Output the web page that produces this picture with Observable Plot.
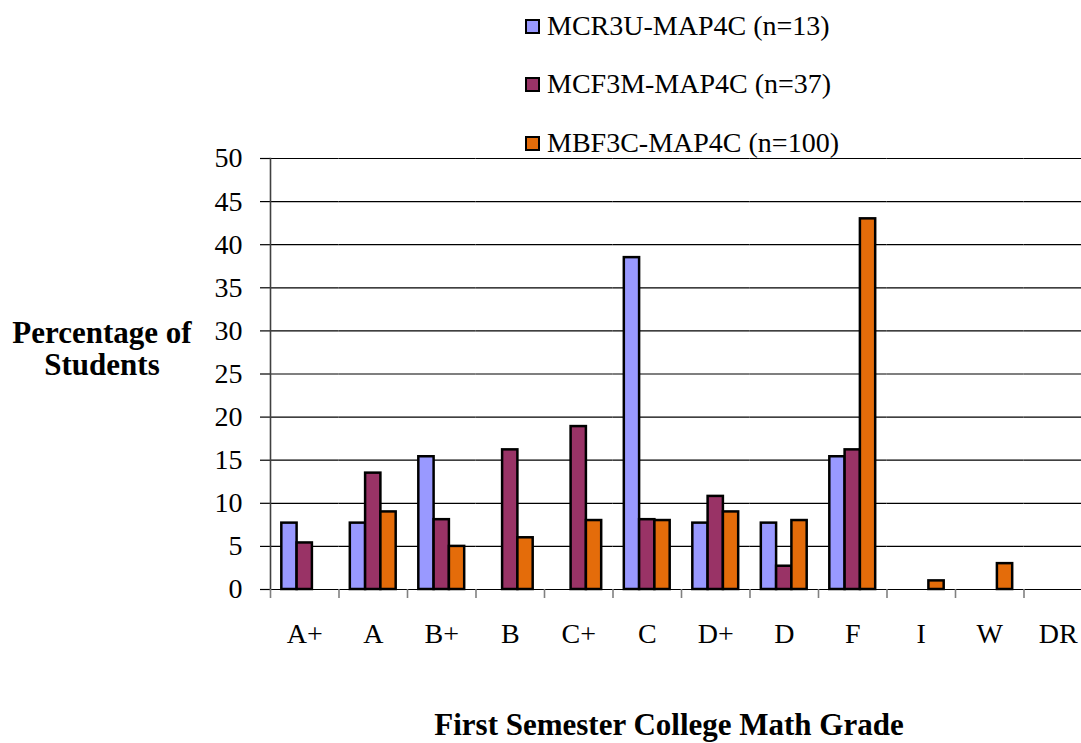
<!DOCTYPE html>
<html>
<head>
<meta charset="utf-8">
<script src="https://cdn.jsdelivr.net/npm/d3@7"></script>
<script src="https://cdn.jsdelivr.net/npm/@observablehq/plot@0.6"></script>
<style>
html, body { margin: 0; padding: 0; background: #fff; overflow: hidden; width: 1081px; height: 743px; }
#wrap, #wrap * { font-family: "Liberation Serif", "Times New Roman", serif !important; }
#wrap { position: relative; width: 1081px; height: 743px; overflow: hidden; color: #000; }
#chart { position: absolute; left: 0; top: 0; width: 1100px; height: 743px; }
#chart svg { max-width: none !important; width: 1100px !important; height: 743px !important; }
.leg { position: absolute; left: 525px; display: flex; align-items: center; height: 32px; font-size: 28px; line-height: 32px; white-space: nowrap; z-index: 2; }
.sw { width: 15px; height: 15px; box-sizing: border-box; border: 2px solid #000; margin-right: 7px; }
.ylab { position: absolute; left: 0; top: 317px; width: 204px; text-align: center; font-weight: bold; font-size: 31px; line-height: 32px; }
.xlab { position: absolute; left: 369px; top: 709px; width: 600px; text-align: center; font-weight: bold; font-size: 31px; line-height: 32px; white-space: nowrap; }
</style>
</head>
<body>
<div id="wrap">
  <div id="chart"></div>
  <div id="legend"></div>
  <div class="ylab">Percentage of<br>Students</div>
  <div class="xlab">First Semester College Math Grade</div>
</div>
<script>
// ---- data ----
const grades = ["A+", "A", "B+", "B", "C+", "C", "D+", "D", "F", "I", "W", "DR"];
const seriesNames = ["MCR3U-MAP4C (n=13)", "MCF3M-MAP4C (n=37)", "MBF3C-MAP4C (n=100)"];
const mcr3u = [7.7, 7.7, 15.4, 0, 0, 38.5, 7.7, 7.7, 15.4, 0, 0, 0];
const mcf3m = [5.4, 13.5, 8.1, 16.2, 18.9, 8.1, 10.8, 2.7, 16.2, 0, 0, 0];
const mbf3c = [0, 9, 5, 6, 8, 8, 9, 8, 43, 1, 3, 0];
const seriesColors = ["#9999FF", "#993366", "#E46C0A"];
const yTickValues = [0, 5, 10, 15, 20, 25, 30, 35, 40, 45, 50];

const seriesValues = [mcr3u, mcf3m, mbf3c];
const table = grades.flatMap((g, i) =>
  seriesNames.map((s, k) => ({grade: g, series: s, value: seriesValues[k][i]}))
);

const W = 1100, H = 743;
const mL = 270, mR = 8, mT = 158, mB = 154;
const halfStep = (W - mL - mR) / grades.length / 2;

const chart = Plot.plot({
  width: W,
  height: H,
  marginLeft: mL,
  marginRight: mR,
  marginTop: mT,
  marginBottom: mB,
  style: {fontFamily: "'Liberation Serif', 'Times New Roman', serif", fontSize: "28px", background: "transparent", color: "#000", overflow: "visible", maxWidth: "none"},
  fx: {domain: grades, padding: 0, label: null, round: false},
  x: {domain: seriesNames, paddingInner: 0, paddingOuter: 0.74, axis: null, round: false},
  y: {domain: [0, 50], label: null},
  color: {domain: seriesNames, range: seriesColors},
  marks: [
    Plot.gridY(yTickValues, {stroke: "#000", strokeOpacity: 1, strokeWidth: 1.2}),
    Plot.axisY(yTickValues, {tickSize: 10, tickPadding: 18, stroke: "#000", strokeWidth: 1.2, fontSize: 28, label: null}),
    Plot.frame({anchor: "left", facet: "super", stroke: "#404040", strokeWidth: 1.6}),
    Plot.barY(table, {fx: "grade", x: "series", y: "value", fill: "series", stroke: "#000", strokeWidth: 2.5, filter: d => d.value > 0}),
    Plot.axisFx({anchor: "bottom", tickSize: 9, dx: -halfStep, fill: "none", stroke: "#808080", strokeWidth: 1.6, label: null}),
    Plot.axisFx({anchor: "bottom", tickSize: 0, tickPadding: 34, fontSize: 28, label: null})
  ]
});
document.getElementById("chart").appendChild(chart);

// legend (HTML overlay)
const legend = document.getElementById("legend");
const legendTops = [10, 68, 127];
seriesNames.forEach((s, k) => {
  const row = document.createElement("div");
  row.className = "leg";
  row.style.top = legendTops[k] + "px";
  const sw = document.createElement("span");
  sw.className = "sw";
  sw.style.background = seriesColors[k];
  const tx = document.createElement("span");
  tx.textContent = s;
  row.appendChild(sw);
  row.appendChild(tx);
  legend.appendChild(row);
});
</script>
</body>
</html>
